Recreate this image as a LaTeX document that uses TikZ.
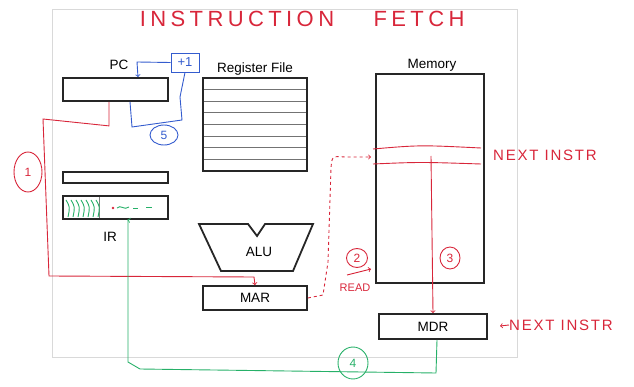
\documentclass[tikz,border=0pt]{standalone}
\usepackage{fontspec}
\setmainfont{Liberation Sans}
\newfontfamily\penfont[LetterSpace=12]{Liberation Sans}
\newfontfamily\titlefont[LetterSpace=20]{Liberation Sans}
\usetikzlibrary{shapes.geometric}

\definecolor{penred}{RGB}{216,38,58}
\definecolor{pengreen}{RGB}{38,176,104}
\definecolor{penblue}{RGB}{52,92,206}

\tikzset{
  reg/.style={draw=black!85, line width=1.8pt, inner sep=0pt,
    font=\fontsize{13.5}{14}\selectfont},
  txt/.style={font=\fontsize{13.5}{14}\selectfont, inner sep=0pt},
  pen/.style={line width=0.9pt},
  hand/.style={font=\penfont\fontsize{15}{15}\selectfont, inner sep=0pt},
  num/.style={draw, ellipse, pen, inner sep=0pt, font=\penfont\fontsize{12}{12}\selectfont},
}

\begin{document}
\begin{tikzpicture}[x=1pt, y=-1pt]
  \useasboundingbox (0,0) rectangle (634,387);
  \draw[black!15, line width=0.8pt] (52,9) rectangle (517,357);

  % title
  \node[penred, font=\titlefont\fontsize{22}{22}\selectfont, inner sep=0pt] (ttl1) at (237,19) {INSTRUCTION};
  \node[penred, font=\titlefont\fontsize{22}{22}\selectfont, inner sep=0pt] (ttl2) at (419,19) {FETCH};

  % registers and memory
  \node[reg, minimum width=105pt, minimum height=23pt] (pc) at (115.5,89.5) {};
  \node[reg, minimum width=105pt, minimum height=11pt] (buf) at (115.5,177.5) {};
  \node[reg, minimum width=105pt, minimum height=23pt] (ir) at (115.5,207.5) {};
  \node[reg, minimum width=104pt, minimum height=93pt] (rf) at (255,124.5) {};
  \node[reg, minimum width=104pt, minimum height=24pt] (mar) at (255,298) {MAR};
  \node[reg, minimum width=108pt, minimum height=209pt] (mem) at (430,178.5) {};
  \node[reg, minimum width=108pt, minimum height=25pt] (mdr) at (433,326.5) {MDR};

  \foreach \y in {89.6,101.2,112.8,124.4,136,147.6,159.2}
    \draw[black!55, line width=0.6pt] (204,\y) -- (306,\y);
  \draw[black!50, line width=0.6pt] (99,197) -- (99,218);

  \draw[black!85, line width=1.8pt] (199,224) -- (248,224) -- (257,236) -- (265,224)
    -- (313,224) -- (293,271) -- (221,271) -- cycle;

  \node[txt] (pclbl) at (119,65) {PC};
  \node[txt] (rflbl) at (255,69) {Register File};
  \node[txt] (memlbl) at (432,65) {Memory};
  \node[txt] (irlbl) at (110,237) {IR};
  \node[txt] (alu) at (259,252) {ALU};

  % step 1: PC to MAR
  \draw[->, penred, pen] ([xshift=-6.5pt]pc.south) -- ++(0,24) -- (43,119) -- (49,276)
    -- (254,277) -- (mar.north);
  \node[num, penred, minimum width=28pt, minimum height=40pt] (one) at (28,172) {1};

  % step 2: read memory
  \coordinate (slot) at (371,157);
  \draw[->, penred, pen, dashed] (mar.east) -- (323,295) -- (328,262) -- (331,168)
    .. controls (332,156) .. (345,157) -- (slot);
  \node[num, penred, minimum width=21pt, minimum height=19pt] (two) at (357,258) {2};
  \node[penred, font=\fontsize{11}{11}\selectfont, inner sep=0pt] (read) at (355,288) {READ};
  \coordinate (rdtail) at (347,275);
  \coordinate (rdhead) at (371,269);
  \draw[->, penred, pen] (rdtail) -- (rdhead);

  \draw[penred, pen] (373,149) .. controls (420,145) .. (481,148);
  \draw[penred, pen] (373,164) .. controls (420,162) .. (481,164);
  \node[hand, penred] (nxt1) at (545,155) {NEXT INSTR};

  % step 3: word to MDR
  \coordinate (word) at (431,156);
  \draw[->, penred, pen] (word) -- (mdr.north);
  \node[num, penred, minimum width=20pt, minimum height=22pt] (three) at (450,258) {3};
  \node[hand, penred] (nxt2) at (561,325) {NEXT INSTR};
  \draw[->, penred, pen] (nxt2.west) -- ++(-9,1);

  % step 4: MDR to IR
  \draw[->, pengreen, pen] ([xshift=4pt]mdr.south) -- (436,373) -- (140,369) -- (128,362)
    -- (128,220) -- ([xshift=12pt]ir.south);
  \node[num, pengreen, minimum width=30pt, minimum height=32pt] (four) at (353,363) {4};

  \foreach \x in {66,71,...,96}
    \draw[pengreen, pen] (\x,200) .. controls (\x+4,207) .. (\x+2,217);
  \draw[pengreen, pen] (117,208) .. controls (121,204) and (124,211) .. (129,207);
  \draw[pengreen, pen] (133,208) -- (138,208);
  \draw[pengreen, pen] (146,207) -- (152,207);
  \fill[penred] (113,208) circle (1.3);

  % step 5: PC + 1
  \node[draw, penblue, pen, minimum width=28pt, minimum height=19pt, inner sep=0pt,
    font=\fontsize{13}{13}\selectfont] (inc) at (185,62.5) {+1};
  \draw[penblue, pen] ([xshift=14.5pt]pc.south) -- (132,127) -- (182,120) -- (180,97) -- (inc.south);
  \draw[->, penblue, pen] (inc.west) -- (137,62) -- ([xshift=22.5pt]pc.north);
  \node[num, penblue, minimum width=28pt, minimum height=20pt] (five) at (164,135) {5};
\end{tikzpicture}
\end{document}
